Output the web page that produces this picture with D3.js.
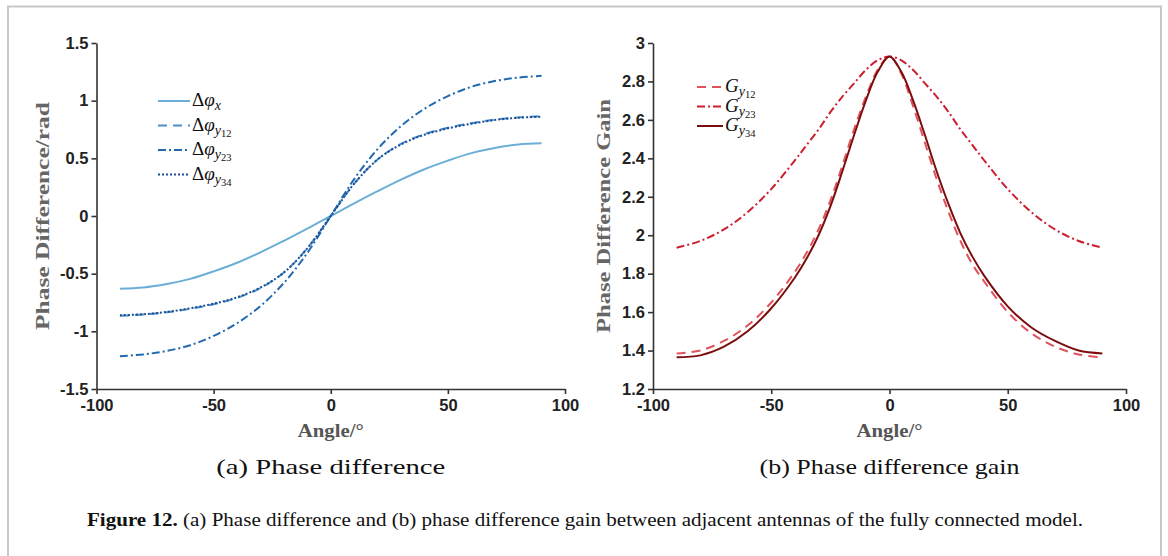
<!DOCTYPE html>
<html><head><meta charset="utf-8">
<script src="https://cdn.jsdelivr.net/npm/d3@7"></script>
<style>body{margin:0;background:#fff}svg{display:block}</style>
</head><body>
<script>
// ---------- data ----------
const anglesA = [-90,-80,-70,-60,-50,-40,-30,-20,-10,0,10,20,30,40,50,60,70,80,90];
const dphiX   = [-0.63,-0.62,-0.59,-0.545,-0.48,-0.405,-0.315,-0.215,-0.11,0,0.11,0.215,0.315,0.405,0.48,0.545,0.59,0.62,0.63];
const dphiY12 = [-0.865,-0.855,-0.835,-0.805,-0.765,-0.71,-0.625,-0.49,-0.28,0,0.28,0.49,0.625,0.71,0.765,0.805,0.835,0.855,0.865];
const dphiY23 = [-1.215,-1.20,-1.17,-1.12,-1.04,-0.93,-0.78,-0.58,-0.32,0,0.32,0.58,0.78,0.93,1.04,1.12,1.17,1.20,1.215];
const dphiY34 = [-0.86,-0.852,-0.832,-0.80,-0.76,-0.705,-0.62,-0.49,-0.28,0,0.28,0.49,0.62,0.705,0.76,0.80,0.832,0.852,0.86];

const anglesB = [-90,-80,-70,-60,-50,-40,-35,-30,-25,-20,-15,-10,-5,0,5,10,15,20,25,30,35,40,50,60,70,80,90];
const gY12 = [1.385,1.40,1.45,1.53,1.65,1.81,1.91,2.03,2.18,2.36,2.55,2.72,2.86,2.93,2.84,2.67,2.48,2.29,2.12,1.97,1.85,1.76,1.60,1.49,1.42,1.38,1.365];
const gY23 = [1.935,1.97,2.03,2.12,2.24,2.39,2.47,2.55,2.64,2.72,2.79,2.86,2.91,2.93,2.91,2.86,2.79,2.72,2.64,2.55,2.47,2.39,2.24,2.12,2.03,1.97,1.935];
const gY34 = [1.365,1.375,1.42,1.50,1.62,1.78,1.88,2.00,2.15,2.33,2.52,2.70,2.85,2.93,2.85,2.70,2.52,2.33,2.16,2.01,1.89,1.79,1.63,1.52,1.45,1.40,1.385];

const xTicks = [-100,-50,0,50,100];
const yTicksA = [-1.5,-1,-0.5,0,0.5,1,1.5];
const yTicksB = [1.2,1.4,1.6,1.8,2,2.2,2.4,2.6,2.8,3];

const W = 1168, H = 556;
const svg = d3.select("body").append("svg").attr("width", W).attr("height", H);

// frame
svg.append("path").attr("d", `M8,${H} L8,6.5 L1161,6.5 L1161,${H}`)
  .attr("fill","none").attr("stroke","#c8c8c8").attr("stroke-width",2);

const sansBold = "Liberation Sans, Arial, sans-serif";
const serif = "Liberation Serif, Times New Roman, serif";

function panel(opts){
  const x = d3.scaleLinear().domain([-100,100]).range(opts.xr);
  const y = d3.scaleLinear().domain(opts.yd).range([389,43]);
  const g = svg.append("g");
  const xa = g.append("g").attr("transform","translate(0,389)")
    .call(d3.axisBottom(x).tickValues(xTicks).tickSize(5).tickPadding(5).tickSizeOuter(0).tickFormat(d=>String(d)));
  const ya = g.append("g").attr("transform",`translate(${opts.xr[0]},0)`)
    .call(d3.axisLeft(y).tickValues(opts.yTicks).tickSize(5).tickPadding(3).tickSizeOuter(0).tickFormat(d=>String(d)));
  [xa,ya].forEach(a=>{
    a.attr("font-family",sansBold).attr("font-size",16.5).attr("font-weight","bold");
    a.selectAll("path,line").attr("stroke","#333").attr("stroke-width",1.6);
    a.selectAll("text").attr("fill","#222");
  });
  // labels
  g.append("text").attr("x",(opts.xr[0]+opts.xr[1])/2).attr("y",437).attr("text-anchor","middle")
    .attr("font-family",serif).attr("font-weight","bold").attr("font-size",19).attr("fill","#555")
    .attr("textLength",66).attr("lengthAdjust","spacingAndGlyphs")
    .text("Angle/°");
  g.append("text").attr("transform",`translate(${opts.ylx},216) rotate(-90)`).attr("text-anchor","middle")
    .attr("font-family",serif).attr("font-weight","bold").attr("font-size",19).attr("fill","#666")
    .attr("textLength",opts.ylW).attr("lengthAdjust","spacingAndGlyphs")
    .text(opts.ylabel);
  // lines
  const line = d3.line().curve(d3.curveCatmullRom.alpha(0.5));
  opts.series.forEach(s=>{
    g.append("path").attr("d", line(opts.angles.map((a,i)=>[x(a), y(s.v[i])])))
      .attr("fill","none").attr("stroke",s.c).attr("stroke-width",s.w||2)
      .attr("stroke-dasharray",s.d||null);
  });
  // legend
  opts.series.forEach((s,i)=>{
    const ly = opts.leg.y + i*opts.leg.dy;
    g.append("line").attr("x1",opts.leg.x).attr("x2",opts.leg.x+opts.leg.len).attr("y1",ly).attr("y2",ly)
      .attr("stroke",s.c).attr("stroke-width",s.w||2).attr("stroke-dasharray",s.d||null);
    const t = g.append("text").attr("x",opts.leg.x+opts.leg.len+2).attr("y",ly+5)
      .attr("font-family",serif).attr("font-size",19).attr("fill","#111");
    s.label(t);
  });
  // subcaption
  svg.append("text").attr("x",(opts.xr[0]+opts.xr[1])/2).attr("y",474).attr("text-anchor","middle")
    .attr("font-family",serif).attr("font-size",22).attr("fill","#111")
    .attr("textLength",opts.subW).attr("lengthAdjust","spacingAndGlyphs")
    .text(opts.sub);
}

function dphiLabel(sub){ return t=>{
  t.append("tspan").text("Δ");
  t.append("tspan").attr("font-style","italic").text("φ");
  if(sub.length===1){
    t.append("tspan").attr("dy",4).attr("font-style","italic").attr("font-size",14).text(sub);
  } else {
    t.append("tspan").attr("dy",4).attr("font-style","italic").attr("font-size",14).text("y");
    t.append("tspan").attr("dy",2).attr("font-size",10.5).text(sub.slice(1));
  }
};}
function gLabel(sub){ return t=>{
  t.append("tspan").attr("font-style","italic").text("G");
  t.append("tspan").attr("dy",4).attr("font-style","italic").attr("font-size",14).text("y");
  t.append("tspan").attr("dy",2).attr("font-size",10.5).text(sub);
};}

panel({
  xr:[96.5,565], yd:[-1.5,1.5], yTicks:yTicksA, ylx:49, ylabel:"Phase Difference/rad", ylW:228,
  angles:anglesA,
  series:[
    {v:dphiX,  c:"#6baed6", label:dphiLabel("x")},
    {v:dphiY12,c:"#4a8fc8", d:"9,6", label:dphiLabel("y12")},
    {v:dphiY23,c:"#2369b0", d:"8,3,2,3", label:dphiLabel("y23")},
    {v:dphiY34,c:"#1d4f96", d:"2,2", label:dphiLabel("y34")}
  ],
  leg:{x:158,y:101,dy:24.5,len:32},
  sub:"(a)  Phase difference", subW:229
});
panel({
  xr:[653,1126], yd:[1.2,3], yTicks:yTicksB, ylx:610, ylabel:"Phase Difference Gain", ylW:234,
  angles:anglesB,
  series:[
    {v:gY12, c:"#e0515c", d:"9,6", label:gLabel("12")},
    {v:gY23, c:"#cc1f30", d:"8,3,2,3", label:gLabel("23")},
    {v:gY34, c:"#7b0d0d", label:gLabel("34")}
  ],
  leg:{x:697,y:87,dy:19.5,len:26},
  sub:"(b)  Phase difference gain", subW:260
});

// caption
const cap = svg.append("text").attr("x",87).attr("y",526)
  .attr("font-family",serif).attr("font-size",19).attr("fill","#111")
  .attr("textLength",996).attr("lengthAdjust","spacingAndGlyphs");
cap.append("tspan").attr("font-weight","bold").text("Figure 12. ");
cap.append("tspan").text("(a) Phase difference and (b) phase difference gain between adjacent antennas of the fully connected model.");
</script>
</body></html>
